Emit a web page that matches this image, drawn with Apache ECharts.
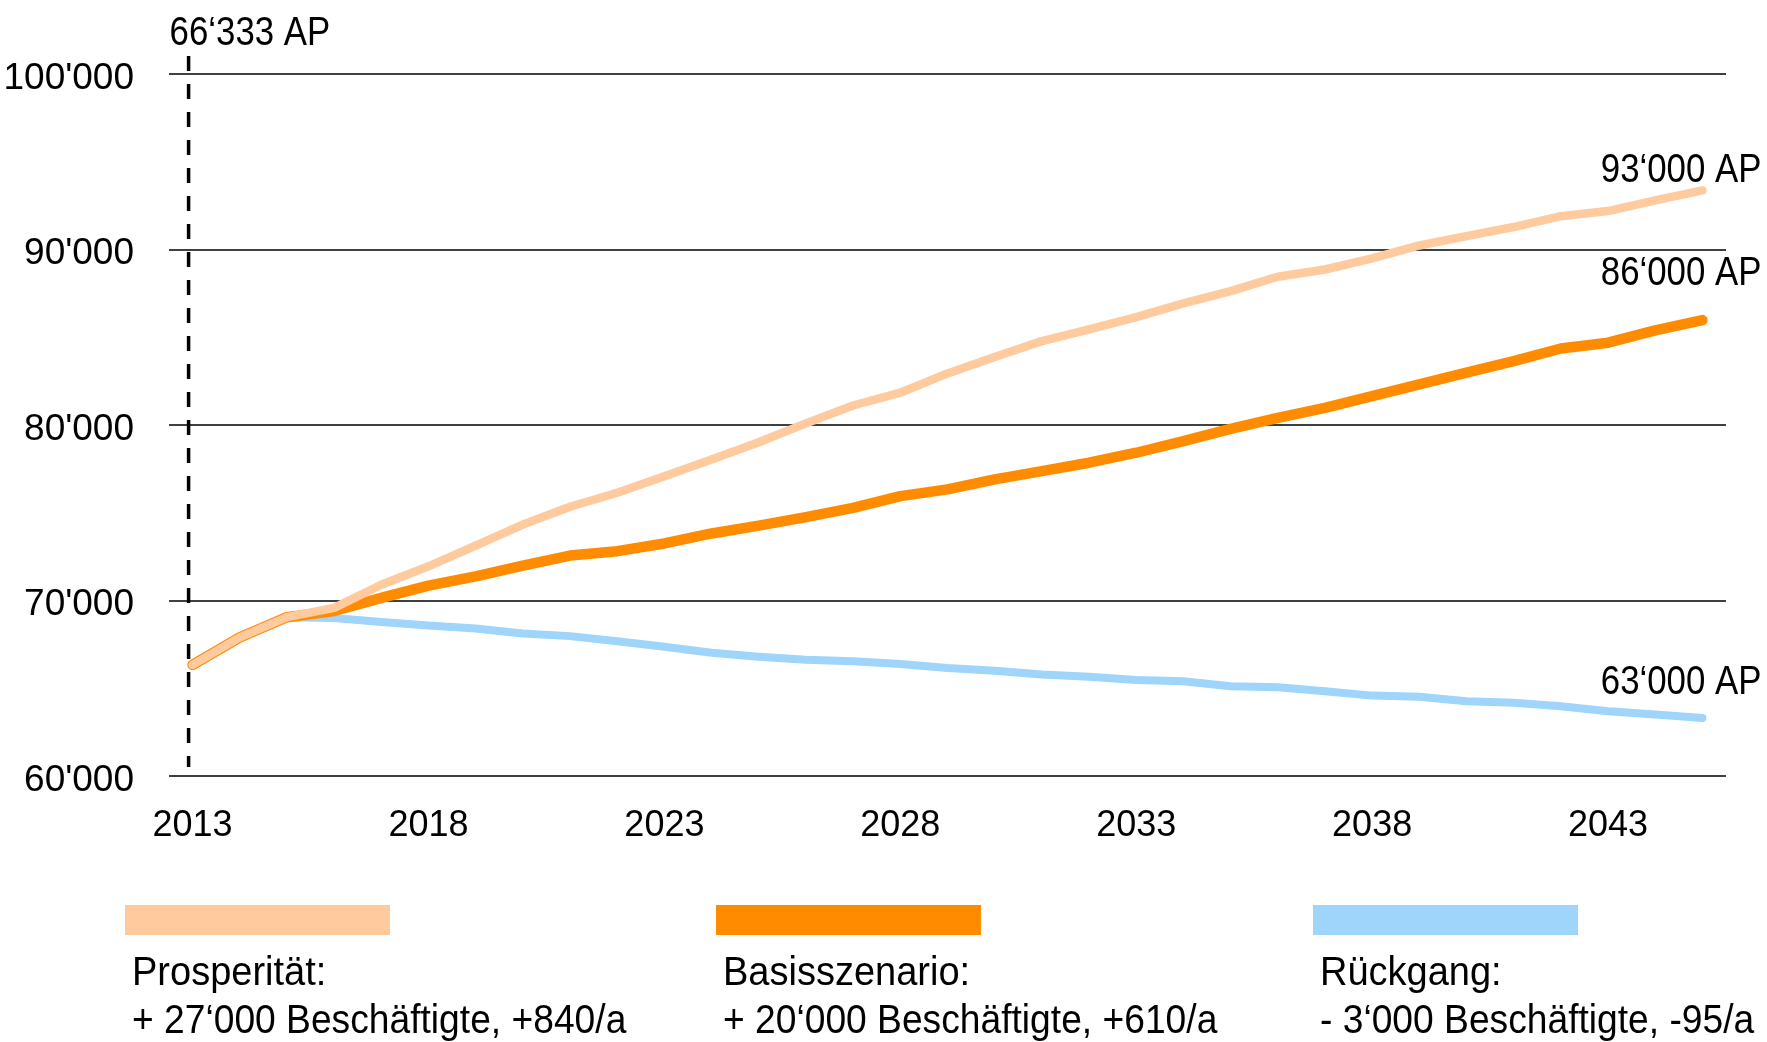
<!DOCTYPE html>
<html>
<head>
<meta charset="utf-8">
<script src="https://cdn.jsdelivr.net/npm/echarts@6/dist/echarts.min.js"></script>
<style>
  html, body { margin: 0; padding: 0; background: #fff; }
  #chart { width: 1767px; height: 1042px; }
</style>
</head>
<body>
<div id="chart"></div>
<script>
// Arbeitsplätze (AP) nach Szenario, 2013–2045
const years = ['2013','2014','2015','2016','2017','2018','2019','2020','2021','2022','2023',
  '2024','2025','2026','2027','2028','2029','2030','2031','2032','2033','2034',
  '2035','2036','2037','2038','2039','2040','2041','2042','2043','2044','2045'];

const prosperitaet = [66333, 67900, 69050, 69580, 70900, 71950, 73130, 74330, 75340, 76140, 77080,
  78030, 79020, 80090, 81110, 81840, 82940, 83880, 84780, 85450, 86150, 86930,
  87630, 88450, 88860, 89500, 90230, 90760, 91280, 91900, 92190, 92800, 93370];

const basisszenario = [66333, 67900, 69050, 69400, 70150, 70850, 71380, 71990, 72560, 72810, 73250,
  73820, 74270, 74750, 75280, 75950, 76330, 76900, 77370, 77850, 78420, 79080,
  79780, 80410, 80980, 81640, 82310, 82980, 83640, 84360, 84690, 85390, 85980];

const rueckgang = [66333, 67900, 69050, 69000, 68780, 68580, 68400, 68120, 67970, 67680, 67360,
  67020, 66800, 66630, 66540, 66380, 66160, 66000, 65780, 65650, 65470, 65400,
  65110, 65060, 64830, 64580, 64510, 64260, 64170, 63970, 63690, 63500, 63310];

const yMin = 60000, yMax = 100000, yStep = 10000;
const xLabelEvery = 5;

const scenarioNames = ['Prosperität:', 'Basisszenario:', 'Rückgang:'];
const scenarioNotes = ['+ 27‘000 Beschäftigte, +840/a', '+ 20‘000 Beschäftigte, +610/a', '- 3‘000 Beschäftigte, -95/a'];
const colors = ['#FECA9E', '#FF8C00', '#9FD4FB'];

const FONT = '"Liberation Sans", Arial, sans-serif';

function groupThousands(v, sep) {
  return String(Math.round(v)).replace(/\B(?=(\d{3})+(?!\d))/g, sep);
}

const chart = echarts.init(document.getElementById('chart'), null, { renderer: 'canvas' });

const lineSeries = (name, data, color, width) => ({
  type: 'line',
  name: name,
  data: data,
  symbol: 'none',
  clip: false,
  lineStyle: { color: color, width: width, cap: 'round', join: 'round' },
  emphasis: { disabled: true }
});

chart.setOption({
  animation: false,
  backgroundColor: '#fff',
  grid: { left: 169, right: 41, top: 74, bottom: 266, containLabel: false, outerBoundsMode: 'none' },
  xAxis: {
    type: 'category',
    data: years,
    boundaryGap: true,
    axisLine: { show: false },
    axisTick: { show: false },
    splitLine: { show: false },
    axisLabel: {
      interval: xLabelEvery - 1,
      margin: 32,
      color: '#000',
      fontSize: 36,
      fontFamily: FONT
    }
  },
  yAxis: {
    type: 'value',
    min: yMin,
    max: yMax,
    interval: yStep,
    axisLine: { show: false },
    axisTick: { show: false },
    splitLine: { lineStyle: { color: '#000', width: 1.6 } },
    axisLabel: {
      margin: 35,
      color: '#000',
      fontSize: 37,
      fontFamily: FONT,
      verticalAlign: 'top',
      lineHeight: 9,
      formatter: v => groupThousands(v, "'")
    }
  },
  series: [
    lineSeries(scenarioNames[2], rueckgang, colors[2], 8),
    lineSeries(scenarioNames[1], basisszenario, colors[1], 10.5),
    lineSeries(scenarioNames[0], prosperitaet, colors[0], 8.5)
  ]
});

// Annotations and legend, placed from the axis scales
function px(cat, val) { return chart.convertToPixel({ gridIndex: 0 }, [cat, val]); }

const graphics = [];
const last = years.length - 1;
const noteStyle = (text, align) => ({
  text: text, fill: '#000', fontSize: 40, fontFamily: FONT,
  textAlign: align, textVerticalAlign: 'middle'
});

// dashed reference line at the base year, with its starting value
const baseX = px(years[0], yMin)[0] - 4;
const dashTop = px(years[0], yMax)[1] - 18;
const dashBottom = px(years[0], yMin)[1] - 9;
graphics.push({
  type: 'line',
  shape: { x1: baseX, y1: dashTop, x2: baseX, y2: dashBottom },
  style: { stroke: '#000', lineWidth: 3.5, lineDash: [15, 13] },
  z: 1
});
graphics.push({
  type: 'text',
  x: baseX - 19, y: dashTop - 22, scaleX: 0.87,
  style: noteStyle(groupThousands(prosperitaet[0], '‘') + ' AP', 'left'),
  z: 10
});

// end-of-line values, rounded to thousands
const endSeries = [prosperitaet, basisszenario, rueckgang];
const endLift = [19, 46, 35];
endSeries.forEach((arr, i) => {
  const p = px(years[last], arr[last]);
  graphics.push({
    type: 'text',
    x: p[0] + 59, y: p[1] - endLift[i], scaleX: 0.87,
    style: noteStyle(groupThousands(Math.round(arr[last] / 1000) * 1000, '‘') + ' AP', 'right'),
    z: 10
  });
});

// legend blocks
const legendLeft = [125, 716, 1313];
legendLeft.forEach((lx, i) => {
  graphics.push({
    type: 'rect',
    shape: { x: lx, y: 905, width: 265, height: 30 },
    style: { fill: colors[i] }
  });
  graphics.push({
    type: 'text',
    x: lx + 7, y: 974, scaleX: 0.95,
    style: noteStyle(scenarioNames[i], 'left')
  });
  graphics.push({
    type: 'text',
    x: lx + 7, y: 1022, scaleX: 0.93,
    style: noteStyle(scenarioNotes[i], 'left')
  });
});

chart.setOption({ graphic: graphics });
</script>
</body>
</html>
